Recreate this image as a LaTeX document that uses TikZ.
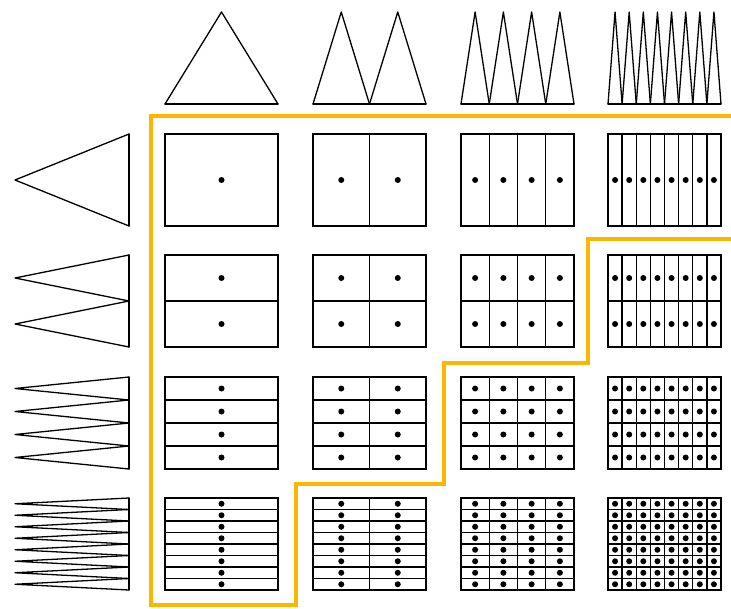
\documentclass[tikz,border=0pt]{standalone}
\definecolor{amber}{RGB}{250,182,0}
\tikzset{
  shape line/.style={draw=black, line width=1.3pt, line join=round, line cap=round},
  grid line/.style={draw=black, line width=1.3pt, line cap=rect},
  staircase/.style={draw=amber, line width=4pt, line join=miter},
  celldot/.style={fill=black}
}
\begin{document}
\begin{tikzpicture}[x=1pt,y=-1pt]
\useasboundingbox (0,0) rectangle (731,608);
\fill[white] (0,0) rectangle (731,608);
% top triangles
\foreach \c/\x in {0/165,1/313,2/461,3/608} {
  \pgfmathtruncatemacro\n{2^\c}
  \pgfmathsetmacro\w{113/\n}
  \foreach \i in {1,...,\n} {
    \draw[shape line] ({\x+(\i-1)*\w},104) -- ({\x+(\i-0.5)*\w},12) -- ({\x+\i*\w},104);
  }
  \draw[shape line] (\x,104) -- ({\x+113},104);
}
% left triangles
\foreach \r/\y in {0/134,1/255,2/377,3/498} {
  \pgfmathtruncatemacro\m{2^\r}
  \pgfmathsetmacro\h{92/\m}
  \foreach \j in {1,...,\m} {
    \draw[shape line] (129,{\y+(\j-1)*\h}) -- (15,{\y+(\j-0.5)*\h}) -- (129,{\y+\j*\h});
  }
  \draw[shape line] (129,\y) -- (129,{\y+92});
}
% grids
\foreach \r/\y in {0/134,1/255,2/377,3/498} {
  \foreach \c/\x in {0/165,1/313,2/461,3/608} {
    \pgfmathtruncatemacro\m{2^\r}
    \pgfmathtruncatemacro\n{2^\c}
    \pgfmathsetmacro\h{92/\m}
    \pgfmathsetmacro\w{113/\n}
    \foreach \k in {0,...,\n} {
      \draw[grid line] ({\x+\k*\w},\y) -- ({\x+\k*\w},{\y+92});
    }
    \foreach \k in {0,...,\m} {
      \draw[grid line] (\x,{\y+\k*\h}) -- ({\x+113},{\y+\k*\h});
    }
    \foreach \i in {1,...,\n} {
      \foreach \j in {1,...,\m} {
        \fill[celldot] ({\x+(\i-0.5)*\w},{\y+(\j-0.5)*\h}) circle (3);
      }
    }
  }
}
% orange staircase
\draw[staircase] (733,116) -- (151,116) -- (151,605) -- (296,605) -- (296,484)
  -- (444,484) -- (444,363) -- (588,363) -- (588,239) -- (733,239);
\end{tikzpicture}
\end{document}
